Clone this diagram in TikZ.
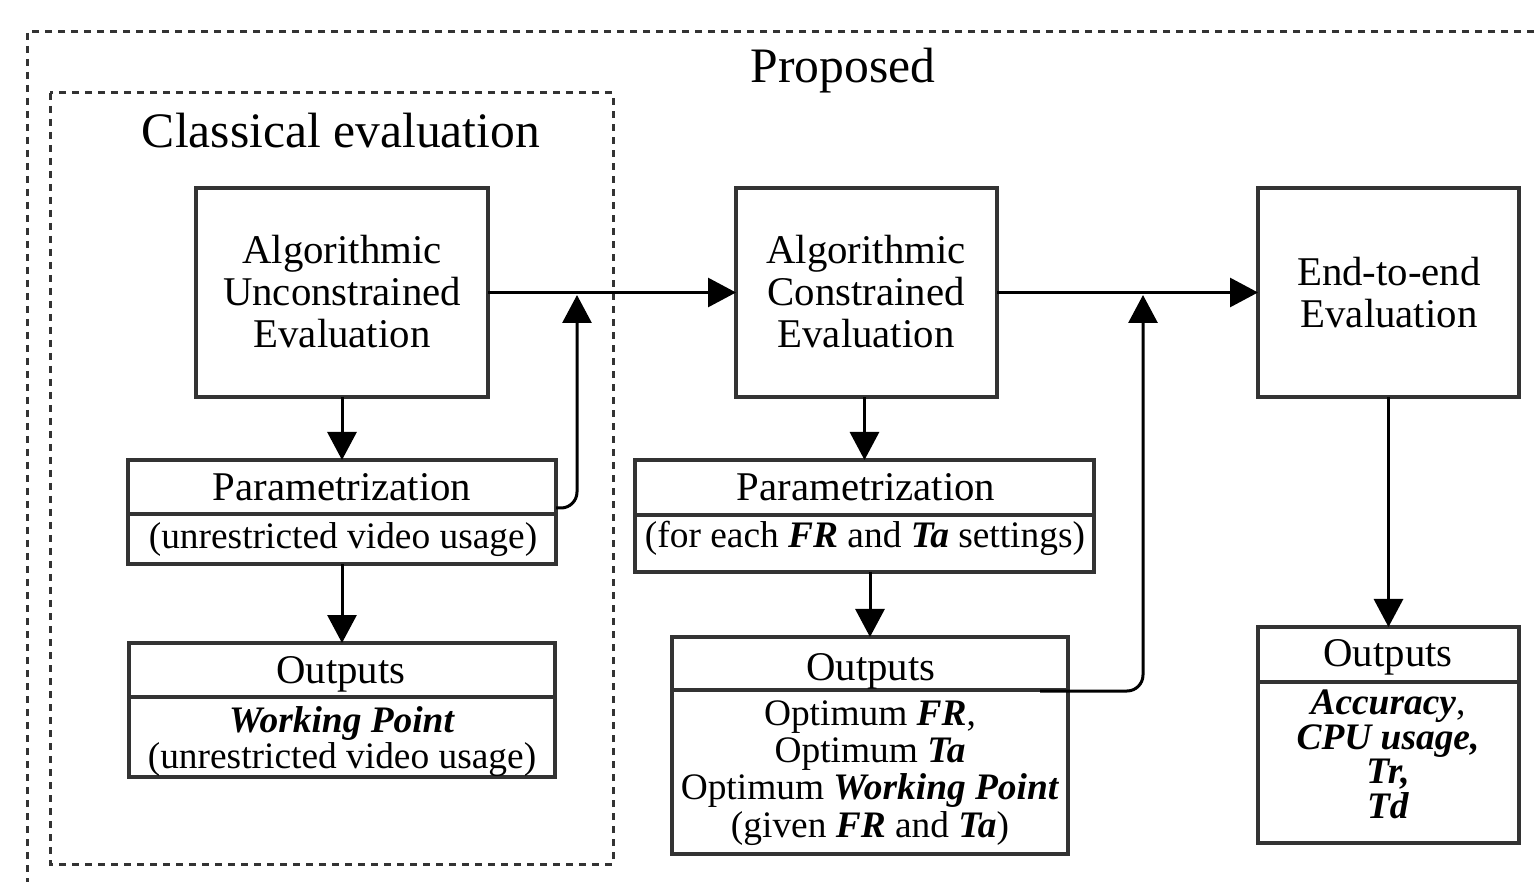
\documentclass[tikz,border=0pt]{standalone}
\usepackage{fontspec}
\setmainfont{Liberation Serif}
\usetikzlibrary{arrows.meta}
\definecolor{boxgray}{HTML}{333333}
\newcommand{\bi}[1]{\textbf{\textit{#1}}}
\begin{document}
\begin{tikzpicture}[x=0.5pt,y=-0.5pt,
  box/.style={draw=boxgray, line width=1.6pt, inner sep=0pt, outer sep=0pt},
  arr/.style={draw=black, line width=1.5pt, -{Triangle[length=14pt,width=14.5pt]}},
  frame/.style={draw=boxgray, line width=1.5pt, dash pattern=on 3.5pt off 3pt},
  big/.style={font=\fontsize{24.8}{28}\selectfont, inner sep=0pt, anchor=base},
  main/.style={font=\fontsize{20.4}{21}\selectfont, align=center, inner sep=0pt, anchor=base},
  small/.style={font=\fontsize{18.7}{18.6}\selectfont, align=center, inner sep=0pt, anchor=base},
  divider/.style={draw=boxgray, line width=1.6pt}
]
\useasboundingbox[fill=white] (0,0) rectangle (1539,882);

% frames
\draw[frame] (1560,32) -- (27,32) -- (27,900);
\draw[frame] (50,93) rectangle (613,864);
\node[big] (proposed) at (843,83) {Proposed};
\node[big] (classical) at (341,148) {Classical evaluation};

% top boxes (base anchor = baseline of last line)
\node[box, minimum width=146pt, minimum height=104.5pt] (aue) at (342,292.5) {};
\node[main] (aueT) at (342,348) {Algorithmic\\Unconstrained\\Evaluation};
\node[box, minimum width=130.5pt, minimum height=104.5pt] (ace) at (866.5,292.5) {};
\node[main] (aceT) at (866,348) {Algorithmic\\Constrained\\Evaluation};
\node[box, minimum width=130.5pt, minimum height=104.5pt] (e2e) at (1388.5,292.5) {};
\node[main] (e2eT) at (1389,328) {End-to-end\\Evaluation};

% parametrization 1
\node[box, minimum width=214pt, minimum height=52pt] (p1) at (342,512) {};
\draw[divider] (p1.west |- 0,514) -- (p1.east |- 0,514);
\node[main] (p1a) at (342,501) {Parametrization};
\node[small] (p1b) at (343,549) {(unrestricted video usage)};

% outputs 1
\node[box, minimum width=213pt, minimum height=67pt] (o1) at (342,710) {};
\draw[divider] (o1.west |- 0,697) -- (o1.east |- 0,697);
\node[main] (o1a) at (341,683) {Outputs};
\node[small, font=\fontsize{18.7}{18}\selectfont] (o1b) at (342,768) {\bi{Working Point}\\(unrestricted video usage)};

% parametrization 2
\node[box, minimum width=229.5pt, minimum height=56pt] (p2) at (864.5,516) {};
\draw[divider] (p2.west |- 0,515) -- (p2.east |- 0,515);
\node[main] (p2a) at (866,501) {Parametrization};
\node[small] (p2b) at (865,548) {(for each \bi{FR} and \bi{Ta} settings)};

% outputs 2
\node[box, minimum width=198pt, minimum height=108.5pt] (o2) at (870,745.5) {};
\draw[divider] (o2.west |- 0,690) -- (o2.east |- 0,690);
\node[main] (o2a) at (871,680) {Outputs};
\node[small] (o2b) at (870,837) {Optimum \bi{FR},\\Optimum \bi{Ta}\\Optimum \bi{Working Point}\\(given \bi{FR} and \bi{Ta})};

% outputs 3
\node[box, minimum width=130.5pt, minimum height=108pt] (o3) at (1388.5,735) {};
\draw[divider] (o3.west |- 0,682) -- (o3.east |- 0,682);
\node[main] (o3a) at (1388,667) {Outputs};
\node[small, font=\fontsize{18.7}{17.2}\selectfont] (o3b) at (1388,818) {\bi{Accuracy},\\\bi{CPU usage,}\\\bi{Tr,}\\\bi{Td}};

% connectors
\draw[arr] (aue.east) -- (ace.west);
\draw[arr] (ace.east) -- (e2e.west);
\draw[arr] (aue.south) -- (p1.north);
\draw[arr] (p1.south) -- (o1.north);
\draw[arr] (ace.south -| p2.north) -- (p2.north);
\draw[arr] (p2.south -| o2.north) -- (o2.north);
\draw[arr] (e2e.south) -- (o3.north);

\coordinate (s1) at (p1.east |- 0,508);
\coordinate (j1) at (577,295);
\draw[arr, rounded corners=8pt] (s1) -| (j1);
\coordinate (s2) at (1040,691);
\coordinate (j2) at (1143,295);
\draw[arr, rounded corners=8pt] (s2) -| (j2);
\end{tikzpicture}
\end{document}
